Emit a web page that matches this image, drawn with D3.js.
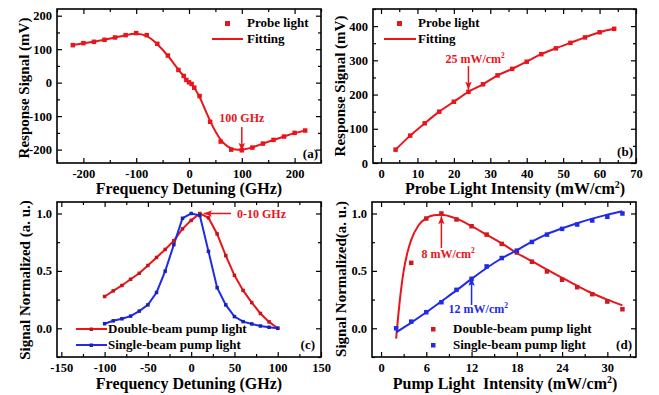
<!DOCTYPE html>
<html>
<head>
<meta charset="utf-8">
<script src="https://cdn.jsdelivr.net/npm/d3@7"></script>
<style>
  html, body { margin: 0; padding: 0; background: #fff; }
  svg { display: block; }
  svg text { font-family: "Liberation Serif", "Times New Roman", "DejaVu Serif", serif; font-weight: bold; }
</style>
</head>
<body>
<div id="chart"></div>
<script>
// (a) response vs frequency detuning
const aFreq = [-220, -200, -180, -160, -140, -120, -100, -80, -60, -40, -20, -10, -5, 0, 5, 10, 20, 40, 60, 80, 100, 120, 140, 160, 180, 200, 220];
const aSignal = [112, 118, 122, 128, 135, 142, 148, 142, 116, 81, 38, 20, 8, 1, -4, -15, -40, -117, -176, -200, -202, -194, -182, -171, -161, -150, -143];

// (b) response vs probe intensity
const bIntensity = [4, 8, 12, 16, 20, 24, 28, 32, 36, 40, 44, 48, 52, 56, 60, 64];
const bSignal = [39, 80, 116, 150, 179, 208, 230, 256, 275, 296, 318, 335, 351, 367, 382, 392];

// (c) normalized signal vs detuning
const cDetuning = [-100, -90, -80, -70, -60, -50, -40, -30, -20, -10, 0, 10, 20, 30, 40, 50, 60, 70, 80, 90, 100];
const cDouble = [0.277, 0.326, 0.373, 0.427, 0.479, 0.547, 0.617, 0.687, 0.763, 0.866, 0.94, 1.0, 0.962, 0.822, 0.633, 0.461, 0.33, 0.224, 0.129, 0.056, 0.0];
const cSingle = [0.04, 0.065, 0.083, 0.106, 0.15, 0.204, 0.312, 0.498, 0.729, 0.958, 1.0, 0.983, 0.67, 0.354, 0.204, 0.102, 0.058, 0.038, 0.02, 0.009, 0.0];

// (d) normalized signal vs pump intensity
const dDoubleX = [4, 6, 8, 10, 12, 14, 16, 18, 20, 22, 24, 26, 28, 30, 32];
const dDouble = [0.57, 0.956, 1.0, 0.948, 0.889, 0.816, 0.735, 0.66, 0.58, 0.495, 0.423, 0.358, 0.297, 0.233, 0.166];
const dSingleX = [2, 4, 6, 8, 10, 12, 14, 16, 18, 20, 22, 24, 26, 28, 30, 32];
const dSingle = [0.0, 0.058, 0.14, 0.227, 0.335, 0.431, 0.539, 0.612, 0.676, 0.752, 0.816, 0.866, 0.904, 0.939, 0.971, 1.0];
const dDoubleFitX = [2, 2.5, 3, 3.5, 4, 5, 6, 7, 8, 10, 12, 14, 16, 18, 20, 22, 24, 26, 28, 30, 32];
const dDoubleFitY = [-0.09, 0.25, 0.5, 0.66, 0.77, 0.9, 0.96, 0.985, 0.99, 0.955, 0.89, 0.815, 0.74, 0.655, 0.585, 0.51, 0.44, 0.37, 0.305, 0.25, 0.2];
const dSingleFitX = [2, 4, 6, 8, 10, 12, 14, 16, 18, 20, 22, 24, 26, 28, 30, 32];
const dSingleFitY = [-0.035, 0.05, 0.14, 0.235, 0.33, 0.43, 0.525, 0.61, 0.68, 0.755, 0.82, 0.87, 0.915, 0.955, 0.99, 1.02];

// tick labels
const aXTicks = [-200, -100, 0, 100, 200];
const aYTicks = [-200, -100, 0, 100, 200];
const bXTicks = [0, 10, 20, 30, 40, 50, 60, 70];
const bYTicks = [0, 100, 200, 300, 400];
const cXTicks = [-150, -100, -50, 0, 50, 100, 150];
const dXTicks = [0, 6, 12, 18, 24, 30];
const normTicks = [0.0, 0.5, 1.0];

const RED = "#e8161b", BLUE = "#1f2be6";

const svg = d3.select("#chart").append("svg")
    .attr("width", 659)
    .attr("height", 395);

const defs = svg.append("defs");
[["arrRed", RED], ["arrBlue", BLUE]].forEach(([id, c]) => {
    defs.append("marker")
        .attr("id", id)
        .attr("viewBox", "0 0 10 8")
        .attr("refX", 10).attr("refY", 4)
        .attr("markerWidth", 8).attr("markerHeight", 7)
        .attr("markerUnits", "userSpaceOnUse")
        .attr("orient", "auto")
        .append("path").attr("d", "M0,0 L10,4 L0,8 L2,4 z").attr("fill", c);
});

function minorVals(dom, step, majors) {
    const lo = Math.ceil(dom[0] / step) * step;
    return d3.range(lo, dom[1] + 1e-9, step).filter(v => !majors.some(m => Math.abs(m - v) < 1e-9));
}

function panel(box, xDom, yDom, xTicks, yTicks, xStep, yStep, yFmt) {
    const x = d3.scaleLinear().domain(xDom).range([box.l, box.r]);
    const y = d3.scaleLinear().domain(yDom).range([box.b, box.t]);
    const g = svg.append("g");

    const styleAxis = sel => {
        sel.select(".domain").remove();
        sel.selectAll("line").attr("stroke", "#000").attr("stroke-width", 1.2);
        sel.attr("font-family", null);
        sel.selectAll("text").attr("font-size", 12.5).attr("fill", "#000");
    };

    const xMin = minorVals(xDom, xStep, xTicks);
    const yMin = minorVals(yDom, yStep, yTicks);

    g.append("g").attr("transform", `translate(0,${box.b})`)
        .call(d3.axisBottom(x).tickValues(xTicks).tickSize(-5).tickPadding(6).tickFormat(d => String(d)))
        .call(styleAxis);
    g.append("g").attr("transform", `translate(0,${box.b})`)
        .call(d3.axisBottom(x).tickValues(xMin).tickSize(-3).tickFormat(""))
        .call(styleAxis);
    g.append("g").attr("transform", `translate(0,${box.t})`)
        .call(d3.axisTop(x).tickValues(xTicks).tickSize(-5).tickFormat(""))
        .call(styleAxis);
    g.append("g").attr("transform", `translate(0,${box.t})`)
        .call(d3.axisTop(x).tickValues(xMin).tickSize(-3).tickFormat(""))
        .call(styleAxis);

    g.append("g").attr("transform", `translate(${box.l},0)`)
        .call(d3.axisLeft(y).tickValues(yTicks).tickSize(-5).tickPadding(5).tickFormat(yFmt))
        .call(styleAxis);
    g.append("g").attr("transform", `translate(${box.l},0)`)
        .call(d3.axisLeft(y).tickValues(yMin).tickSize(-3).tickFormat(""))
        .call(styleAxis);
    g.append("g").attr("transform", `translate(${box.r},0)`)
        .call(d3.axisRight(y).tickValues(yTicks).tickSize(-5).tickFormat(""))
        .call(styleAxis);
    g.append("g").attr("transform", `translate(${box.r},0)`)
        .call(d3.axisRight(y).tickValues(yMin).tickSize(-3).tickFormat(""))
        .call(styleAxis);

    g.append("rect")
        .attr("x", box.l).attr("y", box.t)
        .attr("width", box.r - box.l).attr("height", box.b - box.t)
        .attr("fill", "none").attr("stroke", "#000").attr("stroke-width", 1.6);

    return { g, x, y };
}

function squares(p, xs, ys, color, size) {
    p.g.selectAll(null).data(xs).enter().append("rect")
        .attr("x", d => p.x(d) - size / 2)
        .attr("y", (d, i) => p.y(ys[i]) - size / 2)
        .attr("width", size).attr("height", size)
        .attr("fill", color);
}

function curve(p, xs, ys, color, width, curveType) {
    p.g.append("path")
        .datum(xs.map((d, i) => [d, ys[i]]))
        .attr("fill", "none").attr("stroke", color).attr("stroke-width", width)
        .attr("d", d3.line().x(d => p.x(d[0])).y(d => p.y(d[1])).curve(curveType));
}

function label(x, y, txt, opts = {}) {
    const size = opts.size || 13;
    const t = svg.append("text").attr("x", x).attr("y", y)
        .attr("font-size", size)
        .attr("fill", opts.color || "#000")
        .attr("text-anchor", opts.anchor || "start")
        .style("white-space", "pre");
    if (opts.rotate) t.attr("transform", `rotate(-90,${x},${y})`);
    if (opts.sup) {
        t.append("tspan").text(txt);
        t.append("tspan").attr("dy", -size * 0.4).attr("font-size", size * 0.62).text(opts.sup);
        if (opts.tail) t.append("tspan").attr("dy", size * 0.4).text(opts.tail);
    } else {
        t.text(txt);
    }
    return t;
}

function arrow(x1, y1, x2, y2, color, id) {
    svg.append("line")
        .attr("x1", x1).attr("y1", y1).attr("x2", x2).attr("y2", y2)
        .attr("stroke", color).attr("stroke-width", 1.5)
        .attr("marker-end", `url(#${id})`);
}

const f1 = d3.format(".1f");

// ---------- (a)
const pa = panel({ l: 57, r: 321, t: 9, b: 163 }, [-250, 250], [-240, 220],
    aXTicks, aYTicks, 50, 50, d => String(d));
curve(pa, aFreq, aSignal, RED, 2, d3.curveBasis);
squares(pa, aFreq, aSignal, RED, 4.5);
svg.append("rect").attr("x", 225).attr("y", 21).attr("width", 5).attr("height", 5).attr("fill", RED);
label(247, 27, "Probe light");
svg.append("line").attr("x1", 212).attr("x2", 243).attr("y1", 39).attr("y2", 39).attr("stroke", RED).attr("stroke-width", 2);
label(247, 43, "Fitting");
label(pa.x(100), 122, "100 GHz", { size: 12, color: RED, anchor: "middle" });
arrow(pa.x(100), 127, pa.x(100), pa.y(-204), RED, "arrRed");
label(318, 158, "(a)", { anchor: "end" });
label(189, 194, "Frequency Detuning (GHz)", { size: 16, anchor: "middle" });
label(29, 88, "Response Signal (mV)", { size: 15, anchor: "middle", rotate: true });

// ---------- (b)
const pb = panel({ l: 373, r: 636, t: 9, b: 163 }, [-2.2, 70], [0, 450],
    bXTicks, bYTicks, 5, 50, d => String(d));
curve(pb, bIntensity, bSignal, RED, 2, d3.curveMonotoneX);
squares(pb, bIntensity, bSignal, RED, 4.5);
svg.append("rect").attr("x", 397).attr("y", 21).attr("width", 5).attr("height", 5).attr("fill", RED);
label(418, 27, "Probe light");
svg.append("line").attr("x1", 384).attr("x2", 416).attr("y1", 39).attr("y2", 39).attr("stroke", RED).attr("stroke-width", 2);
label(418, 43, "Fitting");
label(pb.x(24) - 23, 63, "25 mW/cm", { size: 12, color: RED, sup: "2" });
arrow(pb.x(24), 66, pb.x(24), pb.y(214), RED, "arrRed");
label(633, 156, "(b)", { anchor: "end" });
label(515, 194, "Probe Light Intensity (mW/cm", { size: 16, anchor: "middle", sup: "2", tail: ")" });
label(345, 86, "Response Signal (mV)", { size: 15, anchor: "middle", rotate: true });

// ---------- (c)
const pc = panel({ l: 57, r: 321, t: 202, b: 357 }, [-155, 150], [-0.25, 1.1],
    cXTicks, normTicks, 25, 0.25, f1);
curve(pc, cDetuning, cDouble, RED, 2, d3.curveLinear);
curve(pc, cDetuning, cSingle, BLUE, 2, d3.curveLinear);
squares(pc, cDetuning, cDouble, "#c81418", 3.5);
squares(pc, cDetuning, cSingle, "#1a22b0", 3.5);
svg.append("line").attr("x1", 76).attr("x2", 107).attr("y1", 329).attr("y2", 329).attr("stroke", RED).attr("stroke-width", 2);
svg.append("rect").attr("x", 89.5).attr("y", 327.5).attr("width", 3.5).attr("height", 3.5).attr("fill", "#c81418");
label(108, 333, "Double-beam pump light");
svg.append("line").attr("x1", 76).attr("x2", 107).attr("y1", 345).attr("y2", 345).attr("stroke", BLUE).attr("stroke-width", 2);
svg.append("rect").attr("x", 89.5).attr("y", 343.5).attr("width", 3.5).attr("height", 3.5).attr("fill", "#1a22b0");
label(108, 349, "Single-beam pump light");
label(237, 218, "0-10 GHz", { size: 12, color: RED });
arrow(231, pc.y(1.0), pc.x(10) + 4, pc.y(1.0), RED, "arrRed");
label(315, 349, "(c)", { anchor: "end" });
label(189, 389, "Frequency Detuning (GHz)", { size: 16, anchor: "middle" });
label(30, 280, "Signal Normalized (a. u.)", { size: 15, anchor: "middle", rotate: true });

// ---------- (d)
const pd = panel({ l: 372, r: 636, t: 202, b: 357 }, [-1.2, 33.8], [-0.25, 1.1],
    dXTicks, normTicks, 3, 0.25, f1);
curve(pd, dDoubleFitX, dDoubleFitY, RED, 2, d3.curveMonotoneX);
curve(pd, dSingleFitX, dSingleFitY, BLUE, 2, d3.curveMonotoneX);
squares(pd, dDoubleX, dDouble, "#d0191d", 4.5);
squares(pd, dSingleX, dSingle, BLUE, 4.5);
svg.append("rect").attr("x", 431).attr("y", 327).attr("width", 4.5).attr("height", 4.5).attr("fill", "#d0191d");
label(453, 333, "Double-beam pump light");
svg.append("rect").attr("x", 431).attr("y", 343).attr("width", 4.5).attr("height", 4.5).attr("fill", BLUE);
label(453, 349, "Single-beam pump light");
label(pd.x(8) - 20, 258, "8 mW/cm", { size: 12, color: RED, sup: "2" });
arrow(pd.x(8), 248, pd.x(8), pd.y(0.985) + 1, RED, "arrRed");
label(pd.x(12) - 23, 313, "12 mW/cm", { size: 12, color: BLUE, sup: "2" });
arrow(pd.x(12), 305, pd.x(12), pd.y(0.44), BLUE, "arrBlue");
label(632, 349, "(d)", { anchor: "end" });
label(505, 389, "Pump Light  Intensity (mW/cm", { size: 16, anchor: "middle", sup: "2", tail: ")" });
label(346, 279, "Signal Normalized(a. u.)", { size: 15, anchor: "middle", rotate: true });
</script>
</body>
</html>
